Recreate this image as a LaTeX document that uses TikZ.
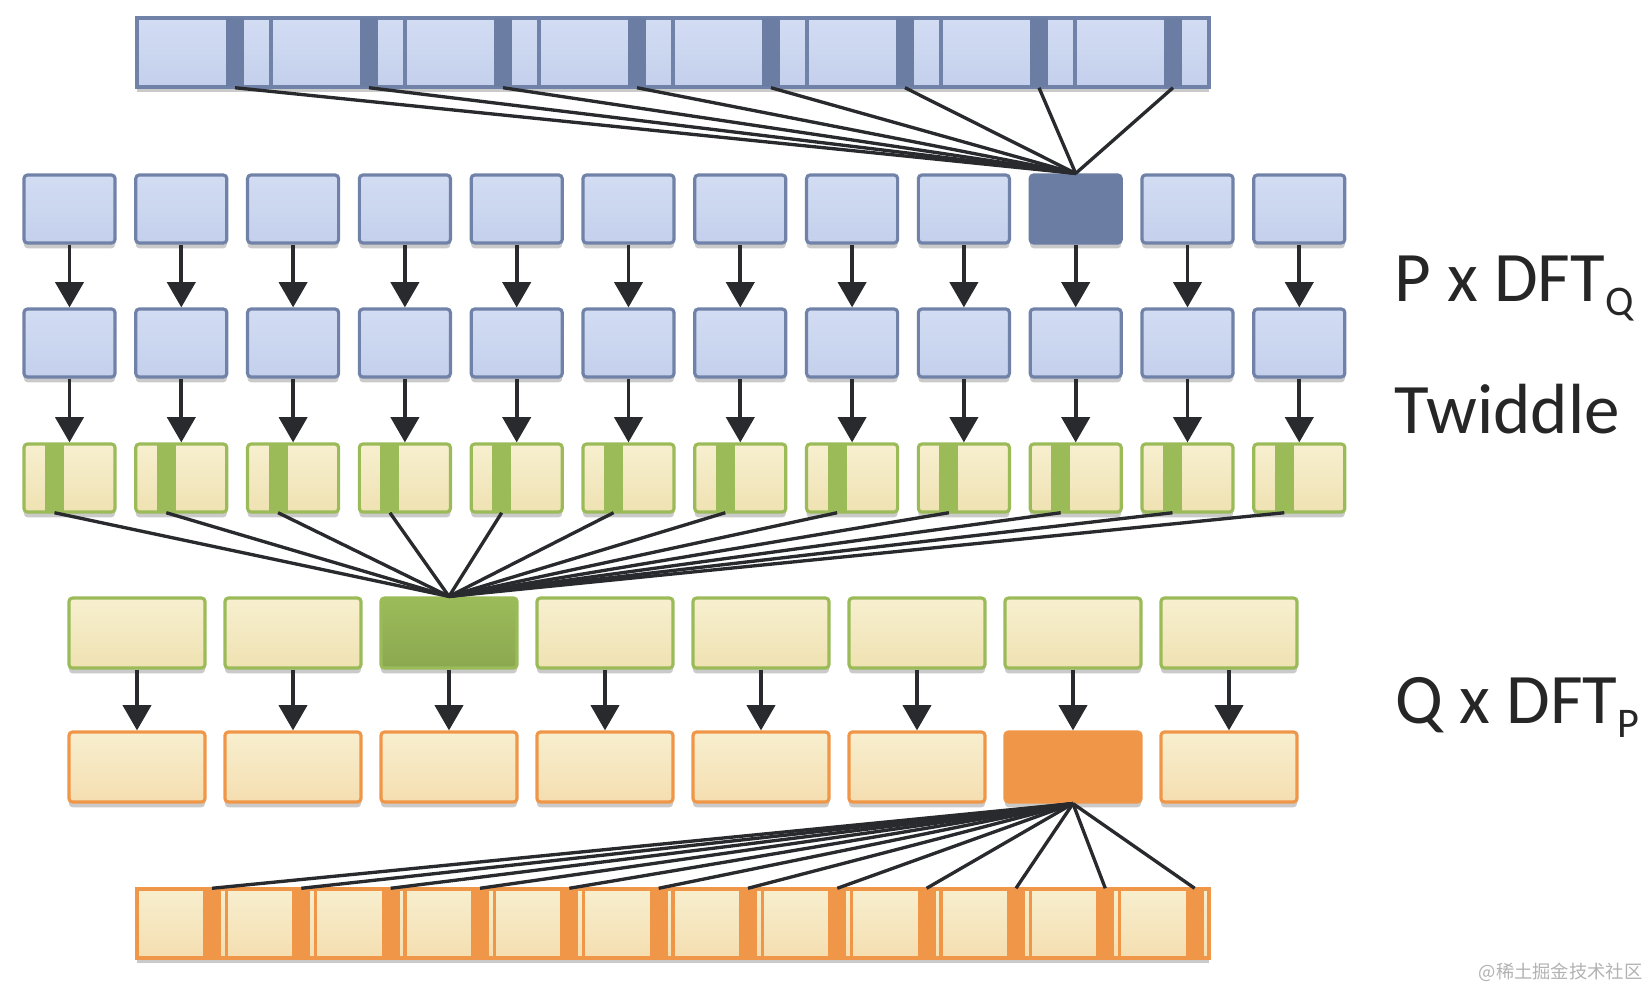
\documentclass[tikz,border=0pt]{standalone}
\usepackage{fontspec}
\setmainfont{Carlito}
\newfontfamily\cjk{Noto Sans CJK SC}
\usetikzlibrary{arrows.meta,shadows}
\definecolor{azulclaro}{RGB}{210,220,243}
\definecolor{azulclaroB}{RGB}{196,208,236}
\definecolor{azulborde}{RGB}{112,130,168}
\definecolor{azuloscuro}{RGB}{107,125,162}
\definecolor{verde}{RGB}{155,187,89}
\definecolor{crema}{RGB}{247,239,207}
\definecolor{cremaB}{RGB}{239,226,178}
\definecolor{naranja}{RGB}{240,150,72}
\definecolor{naranjaB}{RGB}{245,222,176}
\definecolor{tinta}{RGB}{40,42,46}
\newcommand{\subind}[1]{\raisebox{-4pt}{\fontsize{12}{12}\selectfont #1}}

\begin{document}
\begin{tikzpicture}[x=0.01cm,y=-0.01cm,>={Triangle[width=8pt,length=7.2pt]},
    caja/.style={rectangle,inner sep=0pt,line width=0.9pt,rounded corners=1pt,
      drop shadow={shadow xshift=0pt,shadow yshift=-1.5pt,opacity=.35,fill=black!60}},
    cajaazul/.style={caja,draw=azulborde,top color=azulclaro,bottom color=azulclaroB,
      minimum width=0.91cm,minimum height=0.68cm},
    cajaoscura/.style={caja,draw=azuloscuro,fill=azuloscuro,
      minimum width=0.91cm,minimum height=0.68cm},
    cajatw/.style={caja,draw=verde,top color=crema,bottom color=cremaB,
      minimum width=0.91cm,minimum height=0.68cm},
    cajaverde/.style={caja,draw=verde,top color=crema,bottom color=cremaB,
      minimum width=1.36cm,minimum height=0.70cm},
    cajanaranja/.style={caja,draw=naranja,top color=crema,bottom color=naranjaB,
      minimum width=1.36cm,minimum height=0.70cm},
    grupoa/.style={caja,rounded corners=0pt,draw=azulborde,top color=azulclaro,
      bottom color=azulclaroB,minimum width=1.34cm,minimum height=0.69cm},
    grupob/.style={caja,rounded corners=0pt,draw=naranja,top color=crema,
      bottom color=naranjaB,minimum width=0.8933cm,minimum height=0.69cm},
    franja/.style={rectangle,inner sep=0pt,minimum width=0.18cm,minimum height=0.69cm},
    linea/.style={draw=tinta,line width=0.95pt},
    flecha/.style={->,draw=tinta,line width=1.1pt},
    etiqueta/.style={anchor=base west,inner sep=0pt,text=black!85,
      font=\fontsize{20.2}{24}\selectfont}]
  \useasboundingbox (0,0) rectangle (1650,987);

  % arreglo de entrada, P grupos
  \foreach \k in {1,...,8}{
    \node[grupoa] (a\k) at ({137+134*(\k-1)+67},52.5) {};
    \node[franja,fill=azuloscuro] (sa\k) at ({137+134*(\k-1)+98},52.5) {};
  }

  % P x DFT_Q
  \foreach \k in {1,...,9,11,12}
    \node[cajaazul] (q\k) at ({69.5+111.8*(\k-1)},209) {};
  \node[cajaoscura] (q10) at ({69.5+111.8*9},209) {};
  \foreach \k in {1,...,8}
    \draw[linea] (sa\k.south) -- (q10.north);
  \foreach \k in {1,...,12}{
    \node[cajaazul] (r\k) at ({69.5+111.8*(\k-1)},343) {};
    \node[cajatw] (w\k) at ({69.5+111.8*(\k-1)},478) {};
    \node[franja,fill=verde,minimum width=0.19cm,minimum height=0.68cm] (sw\k)
      at ({54.5+111.8*(\k-1)},478) {};
    \draw[flecha] (q\k) -- (r\k);
    \draw[flecha] (r\k) -- (w\k);
  }

  % Q x DFT_P
  \foreach \k in {1,2,4,5,6,7,8}
    \node[cajaverde] (p\k) at ({137+156*(\k-1)},633) {};
  \node[cajaverde,draw=verde,fill=verde,top color=verde,bottom color=verde!90!black]
    (p3) at (449,633) {};
  \foreach \k in {1,...,12}
    \draw[linea] (sw\k.south) -- (p3.north);
  \foreach \k in {1,...,6,8}
    \node[cajanaranja] (o\k) at ({137+156*(\k-1)},767) {};
  \node[cajanaranja,top color=naranja,bottom color=naranja] (o7) at (1073,767) {};
  \foreach \k in {1,...,8}
    \draw[flecha] (p\k) -- (o\k);

  % arreglo de salida
  \foreach \k in {1,...,12}{
    \node[grupob] (b\k) at ({137+89.33*(\k-1)+44.67},923.5) {};
    \node[franja,fill=naranja] (sb\k) at ({137+89.33*(\k-1)+75},923.5) {};
  }
  \foreach \k in {1,...,12}
    \draw[linea] (sb\k.north) -- (o7.south);

  \node[etiqueta] (pq) at (1394,301) {P x DFT\subind{Q}};
  \node[etiqueta] (tw) at (1394,433) {Twiddle};
  \node[etiqueta] (qp) at (1395,723) {Q x DFT\subind{P}};
  \node[anchor=base east,inner sep=0pt,text=gray!60,font=\cjk\fontsize{5.2}{6}\selectfont]
    (marca) at (1643,978) {@稀土掘金技术社区};
\end{tikzpicture}
\end{document}
